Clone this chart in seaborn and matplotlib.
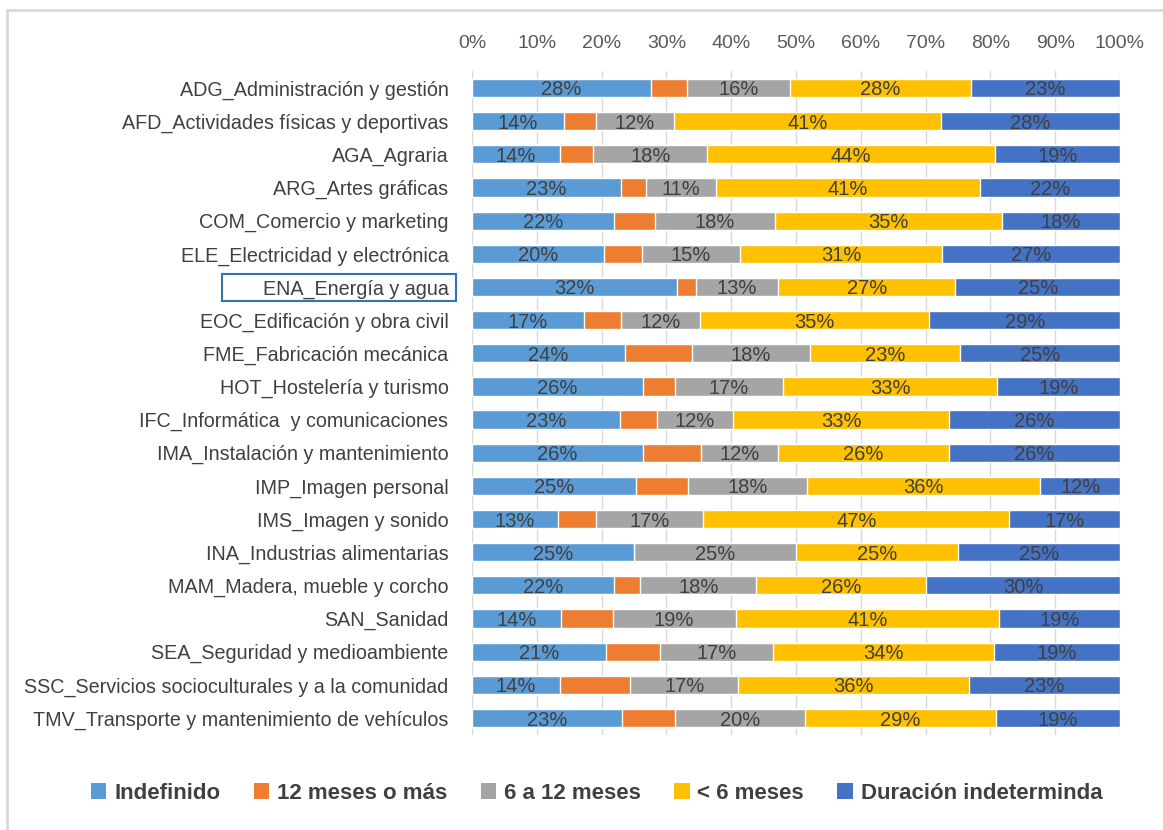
import numpy as np
import pandas as pd
import matplotlib
matplotlib.use("Agg")
import matplotlib.pyplot as plt
from matplotlib.patches import Patch, Rectangle
import seaborn as sns

categories = [
    "ADG_Administración y gestión",
    "AFD_Actividades físicas y deportivas",
    "AGA_Agraria",
    "ARG_Artes gráficas",
    "COM_Comercio y marketing",
    "ELE_Electricidad y electrónica",
    "ENA_Energía y agua",
    "EOC_Edificación y obra civil",
    "FME_Fabricación mecánica",
    "HOT_Hostelería y turismo",
    "IFC_Informática  y comunicaciones",
    "IMA_Instalación y mantenimiento",
    "IMP_Imagen personal",
    "IMS_Imagen y sonido",
    "INA_Industrias alimentarias",
    "MAM_Madera, mueble y corcho",
    "SAN_Sanidad",
    "SEA_Seguridad y medioambiente",
    "SSC_Servicios socioculturales y a la comunidad",
    "TMV_Transporte y mantenimiento de vehículos",
]

indefinido   = [27.6, 14.2, 13.6, 23.0, 21.9, 20.3, 31.7, 17.3, 23.6, 26.4, 22.8, 26.4, 25.3, 13.2, 25.0, 21.9, 13.8, 20.7, 13.6, 23.1]
doce_mas     = [5.6, 4.9, 5.1, 3.8, 6.4, 5.9, 2.9, 5.7, 10.3, 4.9, 5.7, 9.0, 8.0, 5.9, 0.0, 4.1, 7.9, 8.3, 10.8, 8.2]
seis_doce    = [15.8, 12.0, 17.6, 10.8, 18.4, 15.1, 12.6, 12.2, 18.3, 16.7, 11.8, 11.8, 18.4, 16.6, 25.0, 17.9, 19.0, 17.4, 16.7, 20.1]
menos_seis   = [28.0, 41.3, 44.4, 40.8, 35.1, 31.3, 27.4, 35.4, 23.1, 33.0, 33.3, 26.4, 36.0, 47.2, 25.0, 26.2, 40.6, 34.2, 35.6, 29.4]
indeterminada = [23.0, 27.6, 19.3, 21.6, 18.2, 27.4, 25.4, 29.4, 24.7, 19.0, 26.4, 26.4, 12.3, 17.1, 25.0, 29.9, 18.7, 19.4, 23.3, 19.2]

series_names = ["Indefinido", "12 meses o más", "6 a 12 meses", "< 6 meses", "Duración indeterminda"]
series_colors = ["#5B9BD5", "#ED7D31", "#A5A5A5", "#FFC000", "#4472C4"]
show_labels = [True, False, True, True, True]
x_ticks = [0, 10, 20, 30, 40, 50, 60, 70, 80, 90, 100]

sns.set_theme(style="white")
plt.rcParams["font.family"] = ["Liberation Sans", "DejaVu Sans"]

series = [indefinido, doce_mas, seis_doce, menos_seis, indeterminada]
vals = np.array(series)
cum = np.cumsum(vals, axis=0)

fig = plt.figure(figsize=(11.63, 8.30), dpi=100)
ax = fig.add_axes([472 / 1163, 1 - 734.6 / 830, (1120 - 472) / 1163, (734.6 - 71.4) / 830])

for k in range(len(series) - 1, -1, -1):
    df = pd.DataFrame({"cat": categories, "val": cum[k]})
    sns.barplot(data=df, x="val", y="cat", order=categories, orient="h",
                color=series_colors[k], saturation=1, width=0.55, ax=ax, zorder=2)

for k in range(len(series)):
    if not show_labels[k]:
        continue
    for i, cat in enumerate(categories):
        v = vals[k][i]
        if v <= 0:
            continue
        center = cum[k][i] - v / 2
        ax.text(center, i, f"{v:.0f}%", ha="center", va="center_baseline",
                fontsize=14.5, color="#404040", zorder=3)

ax.set_xlim(0, 100)
ax.set_ylim(len(categories) - 0.5, -0.5)
ax.set_xticks(x_ticks)
ax.set_xticklabels([f"{t}%" for t in x_ticks])
ax.xaxis.tick_top()
ax.tick_params(axis="x", length=0, pad=14, labelsize=14, labelcolor="#595959")
ax.tick_params(axis="y", length=0, pad=17, labelsize=14.2, labelcolor="#404040")
ax.set_xlabel("")
ax.set_ylabel("")
for s in ax.spines.values():
    s.set_visible(False)
ax.grid(axis="x", color="#D9D9D9", linewidth=1, zorder=0)
ax.set_axisbelow(True)

# highlight box
fig.patches.append(Rectangle((222 / 1163, 1 - 301 / 830), (456 - 222) / 1163, 27 / 830,
                             transform=fig.transFigure, fill=False,
                             edgecolor="#2E75B6", linewidth=1.5))
# chart border
fig.patches.append(Rectangle((7 / 1163, -0.05), 1.2, 1 - 10 / 830 + 0.05,
                             transform=fig.transFigure, fill=False,
                             edgecolor="#D9D9D9", linewidth=2))

handles = [Patch(facecolor=c, edgecolor="none") for c in series_colors]
leg = fig.legend(handles, series_names, loc="center", bbox_to_anchor=(0.513, 1 - 793 / 830),
                 ncol=5, frameon=False, handlelength=0.7, handleheight=0.7,
                 handletextpad=0.35, columnspacing=1.5,
                 prop={"size": 16, "weight": "bold"})
for t in leg.get_texts():
    t.set_color("#404040")

fig.savefig("out.png", dpi=100, facecolor="white")
